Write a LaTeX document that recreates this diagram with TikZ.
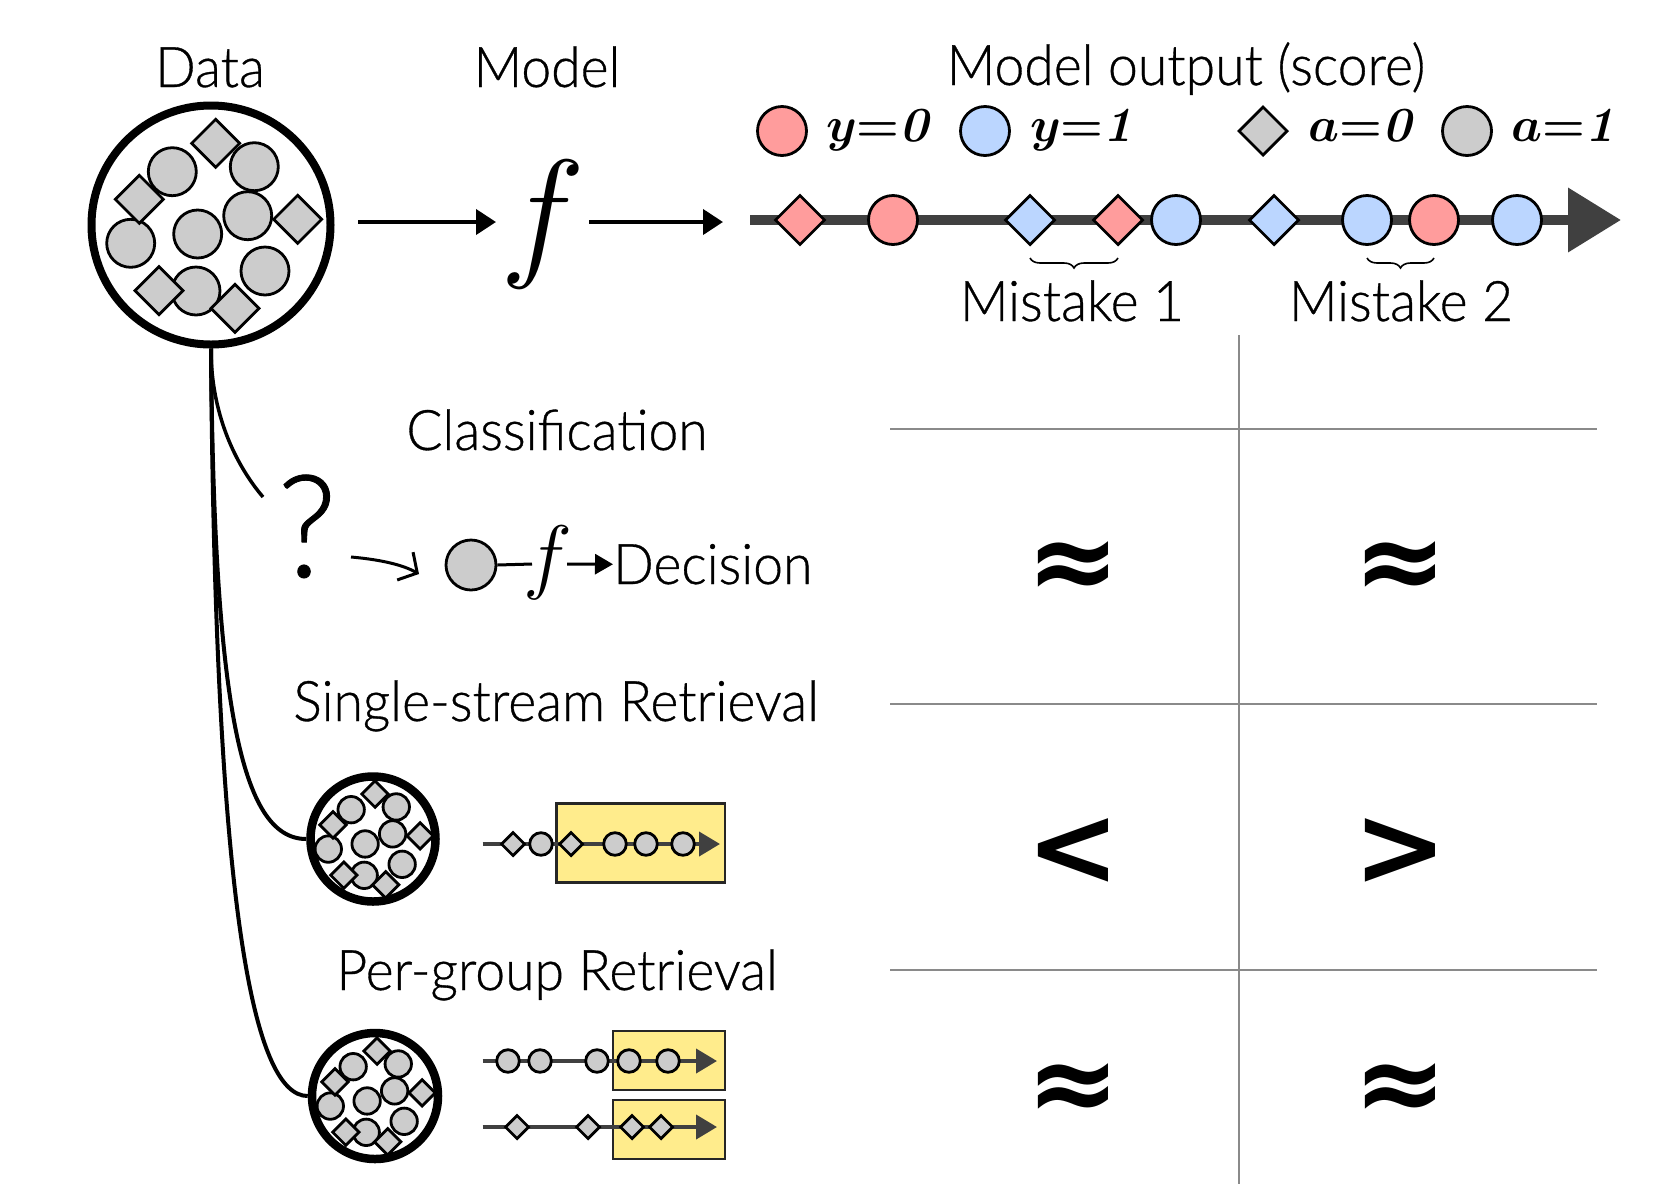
\IfFileExists{fix-cm.sty}{\RequirePackage{fix-cm}}{}
\documentclass[tikz,border=0pt]{standalone}
\usepackage[no-math]{fontspec}
\usepackage{amsmath}
\IfFontExistsTF{Lato Light}{\setmainfont{Lato Light}[FakeStretch=0.955,FakeBold=0.6]}{\setmainfont{Lato}[FakeStretch=0.92]}
\newfontfamily\symfont{DejaVu Sans}
\usetikzlibrary{arrows.meta,decorations.pathreplacing}
\definecolor{redf}{HTML}{FF9C9C}
\definecolor{bluef}{HTML}{BBD6FF}
\definecolor{grayf}{HTML}{CCCCCC}
\definecolor{linec}{HTML}{404040}
\definecolor{boxf}{HTML}{FFEC8C}
\definecolor{gridc}{HTML}{8A8A8A}
\newcommand\mkC[3]{\draw[shp,fill=#3] (#1) circle[radius=#2];}
\newcommand\mkD[3]{\begin{scope}[shift={(#1)}]\draw[shp,fill=#3] (0,-#2)--(#2,0)--(0,#2)--(-#2,0)--cycle;\end{scope}}
\newcommand\dotpattern{%
\mkC{-39.7,-53.3}{24}{grayf}\mkC{42.3,-58.3}{24}{grayf}\mkC{35.7,-9.3}{24}{grayf}%
\mkC{-14.3,9}{24}{grayf}\mkC{-81.3,18.3}{24}{grayf}\mkC{53,46}{24}{grayf}\mkC{-16,66}{24}{grayf}%
\mkD{3.7,-81.7}{24}{grayf}\mkD{-72.7,-25.7}{24}{grayf}\mkD{85.7,-5.7}{24}{grayf}%
\mkD{-53,65.7}{24}{grayf}\mkD{23,83.3}{24}{grayf}}
\begin{document}
\begin{tikzpicture}[x=1pt,y=-1pt,
  txt/.style={inner sep=0pt, font=\fontsize{56}{60}\selectfont},
  lgd/.style={inner sep=0pt, font=\fontsize{49}{49}\selectfont\boldmath},
  sym/.style={inner sep=0pt, font=\symfont\bfseries\fontsize{112}{112}\selectfont},
  shp/.style={draw=black, line width=2.8pt},
  conn/.style={line width=4pt},
  toparrow/.style={line width=4pt, -{Triangle[length=20pt,width=25pt]}},
  scoreline/.style={line width=10.5pt, draw=linec, -{Triangle[length=53pt,width=62pt]}},
  retline/.style={line width=4pt, draw=linec, -{Triangle[length=21pt,width=24pt]}},
  boxst/.style={fill=boxf, draw=black!85, line width=2.5pt},
  gridl/.style={draw=gridc, line width=2.5pt},
  brc/.style={line width=1.6pt, decorate, decoration={brace, mirror, amplitude=10pt}},
  ring/.style={draw, circle, inner sep=0pt}]
\useasboundingbox (0,0) rectangle (1661,1184);
\fill[white] (0,0) rectangle (1661,1184);

% ---- titles
\node[txt,anchor=base] (tData) at (210,87) {Data};
\node[txt,anchor=base] (tModel) at (547,87) {Model};
\node[txt,anchor=base] (tOut) at (1186,85) {Model output (score)};

% ---- data circle
\node[ring, line width=8pt, minimum size=239pt] (data) at (211,225) {};
\begin{scope}[shift={(212,225)}]\dotpattern\end{scope}

% ---- model
\node[inner sep=0pt, font=\fontsize{144}{144}\selectfont] (fm) at (543,224) {$f$};
\coordinate (a1s) at (358,222);
\coordinate (a1e) at (496,222);
\coordinate (a2s) at (589,222);
\coordinate (a2e) at (723,222);
\draw[toparrow] (a1s) -- (a1e);
\draw[toparrow] (a2s) -- (a2e);

% ---- legend
\mkC{782,131}{24.5}{redf}
\node[lgd,anchor=base west] (ly0) at (826,141) {$y{=}\mathit{0}$};
\mkC{985,131}{24.5}{bluef}
\node[lgd,anchor=base west] (ly1) at (1030,141) {$y{=}\mathit{1}$};
\mkD{1263,131}{24}{grayf}
\node[lgd,anchor=base west] (la0) at (1308,141) {$a{=}\mathit{0}$};
\mkC{1467,131}{24.5}{grayf}
\node[lgd,anchor=base west] (la1) at (1511,141) {$a{=}\mathit{1}$};

% ---- score line
\coordinate (sl1) at (750,220);
\coordinate (sl2) at (1621,220);
\draw[scoreline] (sl1) -- (sl2);
\mkD{800,220}{24.5}{redf}
\mkC{893,220}{24.5}{redf}
\mkD{1030,220}{24.5}{bluef}
\mkD{1118,220}{24.5}{redf}
\mkC{1176,220}{24.5}{bluef}
\mkD{1274,220}{24.5}{bluef}
\mkC{1367,220}{24.5}{bluef}
\mkC{1434,220}{24.5}{redf}
\mkC{1517,220}{24.5}{bluef}
\coordinate (b1s) at (1030,258); \coordinate (b1e) at (1118,258);
\coordinate (b2s) at (1367,258); \coordinate (b2e) at (1434,258);
\draw[brc] (b1s) -- (b1e);
\draw[brc] (b2s) -- (b2e);
\node[txt,anchor=base] (tM1) at (1072,321) {Mistake 1};
\node[txt,anchor=base] (tM2) at (1401,321) {Mistake 2};

% ---- grid
\coordinate (gv1) at (1239,335); \coordinate (gv2) at (1239,1184);
\draw[gridl] (gv1) -- (gv2);
\coordinate (gh1a) at (890,429); \coordinate (gh1b) at (1597,429);
\coordinate (gh2a) at (890,704); \coordinate (gh2b) at (1597,704);
\coordinate (gh3a) at (890,970); \coordinate (gh3b) at (1597,970);
\draw[gridl] (gh1a) -- (gh1b);
\draw[gridl] (gh2a) -- (gh2b);
\draw[gridl] (gh3a) -- (gh3b);
\node[sym] (s11) at (1073,571) {≈};
\node[sym] (s12) at (1400,571) {≈};
\node[sym] (s21) at (1073,852) {<};
\node[sym] (s22) at (1400,852) {>};
\node[sym] (s31) at (1073,1093) {≈};
\node[sym] (s32) at (1400,1093) {≈};

% ---- classification row
\node[txt,anchor=base] (tCls) at (557,450) {Classification};
\node[inner sep=0pt, anchor=base, font=\fontsize{143}{150}\selectfont] (tQ) at (307,577) {?};
\coordinate (qa1) at (351,557);
\coordinate (qa2) at (419,574);
\draw[line width=3pt, -{Straight Barb[length=14pt,width=32pt]}] (qa1) .. controls (385,560) and (405,566) .. (qa2);
\node[ring, fill=grayf, line width=2.8pt, minimum size=50pt] (cc) at (471,565) {};
\node[inner sep=0pt, font=\fontsize{83}{83}\selectfont] (f2) at (548,563) {$f$};
\coordinate (f2in) at (532,564);
\coordinate (f2out) at (567,564);
\draw[line width=3pt] (cc.east) -- (f2in);
\node[txt,anchor=base west] (tDec) at (613,584) {Decision};
\draw[line width=3pt, -{Triangle[length=18pt,width=20pt]}] (f2out) -- (tDec.west);

% ---- single-stream retrieval
\node[txt,anchor=base] (tSS) at (556,721) {Single-stream Retrieval};
\node[ring, line width=8.5pt, minimum size=125pt] (ss) at (373,839) {};
\begin{scope}[shift={(373,839)}, scale=0.55]\dotpattern\end{scope}
\draw[boxst] (556.7,803.3) rectangle (725,882.3);
\coordinate (r1s) at (482.7,844); \coordinate (r1e) at (720,844);
\draw[retline] (r1s) -- (r1e);
\mkD{513,844}{11.5}{grayf}
\mkC{541,844}{11.3}{grayf}
\mkD{571,844}{11.5}{grayf}
\mkC{615,844}{11.3}{grayf}
\mkC{646,844}{11.3}{grayf}
\mkC{683,844}{11.3}{grayf}

% ---- per-group retrieval
\node[txt,anchor=base] (tPG) at (557,990) {Per-group Retrieval};
\node[ring, line width=8.5pt, minimum size=126pt] (ps) at (375,1096) {};
\begin{scope}[shift={(375,1096)}, scale=0.55]\dotpattern\end{scope}
\draw[boxst] (613,1031) rectangle (725,1090);
\draw[boxst] (613,1100) rectangle (725,1159);
\coordinate (r2s) at (482.7,1061); \coordinate (r2e) at (717,1061);
\coordinate (r3s) at (482.7,1127); \coordinate (r3e) at (717,1127);
\draw[retline] (r2s) -- (r2e);
\draw[retline] (r3s) -- (r3e);
\mkC{508,1061}{11.3}{grayf}
\mkC{540,1061}{11.3}{grayf}
\mkC{597,1061}{11.3}{grayf}
\mkC{629,1061}{11.3}{grayf}
\mkC{668,1061}{11.3}{grayf}
\mkD{517,1127}{11.5}{grayf}
\mkD{588,1127}{11.5}{grayf}
\mkD{632,1127}{11.5}{grayf}
\mkD{661,1127}{11.5}{grayf}

% ---- connectors from data
\coordinate (qend) at (263,497);
\draw[line width=3.5pt] (data.south) .. controls (211,420) and (240,470) .. (qend);
\draw[conn] (data.south) .. controls (214,700) and (240,839) .. (ss.west);
\draw[conn] (data.south) .. controls (215,900) and (252,1096) .. (ps.west);
\end{tikzpicture}
\end{document}
